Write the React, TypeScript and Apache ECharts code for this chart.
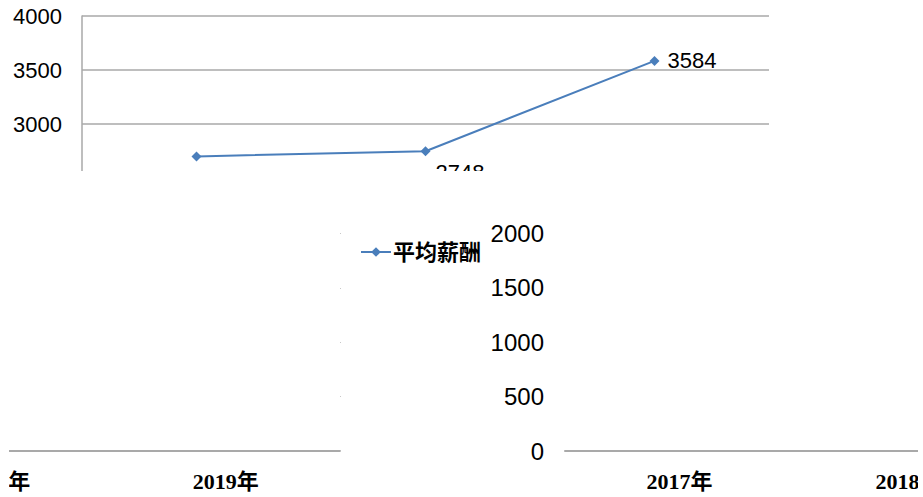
import React, { useEffect, useRef } from "react";
import * as echarts from "echarts";

const topCategories = ["2017年", "2018年", "2019年"];
const salaryValues = [2700, 2748, 3584];
const leftCategories = ["2018年", "2019年"];
const rightCategories = ["2017年", "2018年"];
const seriesName = "平均薪酬";

const GRID = "#a9a9a9";
const BLUE = "#4a7ebb";
const SANS = "'Liberation Sans', Arial, sans-serif";
const SERIF = "'Liberation Serif', 'Noto Sans CJK SC', serif";
const plain = (v: number) => String(v);

export default function App() {
  const ref = useRef<HTMLDivElement>(null);
  useEffect(() => {
    if (!ref.current) return;
    const chart = echarts.init(ref.current, null, { renderer: "svg" });
    const data = salaryValues.map((v, i) => {
      if (i === 0) return { value: v, label: { show: false } };
      if (i === 1)
        return { value: v, label: { show: true, position: [15, 15] } };
      return {
        value: v,
        label: { show: true, position: "right", distance: 8 },
      };
    });
    chart.setOption({
      animation: false,
      backgroundColor: "#fff",
      grid: [
        { left: 82, top: 16, width: 687, height: 162, outerBoundsMode: "none" },
        { left: -117, top: 179, width: 457, height: 272, outerBoundsMode: "none" },
        { left: 565, top: 179, width: 458, height: 272, outerBoundsMode: "none" },
      ],
      legend: {
        data: [seriesName],
        left: 355,
        top: 236,
        itemWidth: 30,
        itemHeight: 12,
        itemGap: 4,
        textStyle: {
          fontFamily: SERIF,
          fontSize: 22,
          fontWeight: "bold",
          color: "#000",
          padding: [0, 0, 0, -3],
        },
      },
      xAxis: [
        {
          gridIndex: 0,
          type: "category",
          data: topCategories,
          boundaryGap: true,
          axisLine: { show: false },
          axisTick: { show: false },
          axisLabel: { show: false },
        },
        {
          gridIndex: 1,
          type: "category",
          data: leftCategories,
          boundaryGap: true,
          axisLine: { show: true, lineStyle: { color: GRID, width: 2 } },
          axisTick: { show: false },
          axisLabel: {
            margin: 19,
            fontFamily: SERIF,
            fontSize: 22,
            fontWeight: "bold",
            color: "#000",
          },
        },
        {
          gridIndex: 2,
          type: "category",
          data: rightCategories,
          boundaryGap: true,
          axisLine: { show: true, lineStyle: { color: GRID, width: 2 } },
          axisTick: { show: false },
          axisLabel: {
            margin: 19,
            fontFamily: SERIF,
            fontSize: 22,
            fontWeight: "bold",
            color: "#000",
          },
        },
      ],
      yAxis: [
        {
          gridIndex: 0,
          type: "value",
          min: 2500,
          max: 4000,
          interval: 500,
          axisLine: { show: true, lineStyle: { color: GRID, width: 1.5 } },
          axisTick: { show: false },
          splitLine: {
            show: true,
            showMinLine: false,
            lineStyle: { color: GRID, width: 1.5 },
          },
          axisLabel: {
            showMinLabel: false,
            formatter: plain,
            margin: 20,
            fontFamily: SANS,
            fontSize: 22,
            color: "#000",
          },
        },
        {
          gridIndex: 1,
          type: "value",
          position: "right",
          min: 0,
          max: 2500,
          interval: 500,
          axisLine: { show: false },
          axisTick: { show: true, length: 1, lineStyle: { color: "#c8c8c8" } },
          splitLine: { show: false },
          axisLabel: { show: false },
        },
        {
          gridIndex: 2,
          type: "value",
          min: 0,
          max: 2500,
          interval: 500,
          axisLine: { show: false },
          axisTick: { show: false },
          splitLine: { show: false },
          axisLabel: {
            showMaxLabel: false,
            formatter: plain,
            margin: 21,
            fontFamily: SANS,
            fontSize: 24,
            color: "#000",
          },
        },
      ],
      series: [
        {
          name: seriesName,
          type: "line",
          xAxisIndex: 0,
          yAxisIndex: 0,
          data,
          symbol: "diamond",
          symbolSize: 10,
          itemStyle: { color: BLUE },
          lineStyle: { color: BLUE, width: 2 },
          label: {
            fontFamily: SANS,
            fontSize: 22,
            color: "#000",
          },
        },
      ],
      graphic: [
        {
          type: "rect",
          z: 100,
          shape: { x: 0, y: 171, width: 923, height: 17 },
          style: { fill: "#fff" },
        },
        {
          type: "rect",
          z: 100,
          shape: { x: 918, y: 0, width: 5, height: 497 },
          style: { fill: "#fff" },
        },
        {
          type: "rect",
          z: 100,
          shape: { x: 0, y: 440, width: 9, height: 57 },
          style: { fill: "#fff" },
        },
      ],
    });
    return () => chart.dispose();
  }, []);
  return (
    <div
      ref={ref}
      style={{ position: "absolute", left: 0, top: 0, width: 923, height: 497 }}
    />
  );
}
